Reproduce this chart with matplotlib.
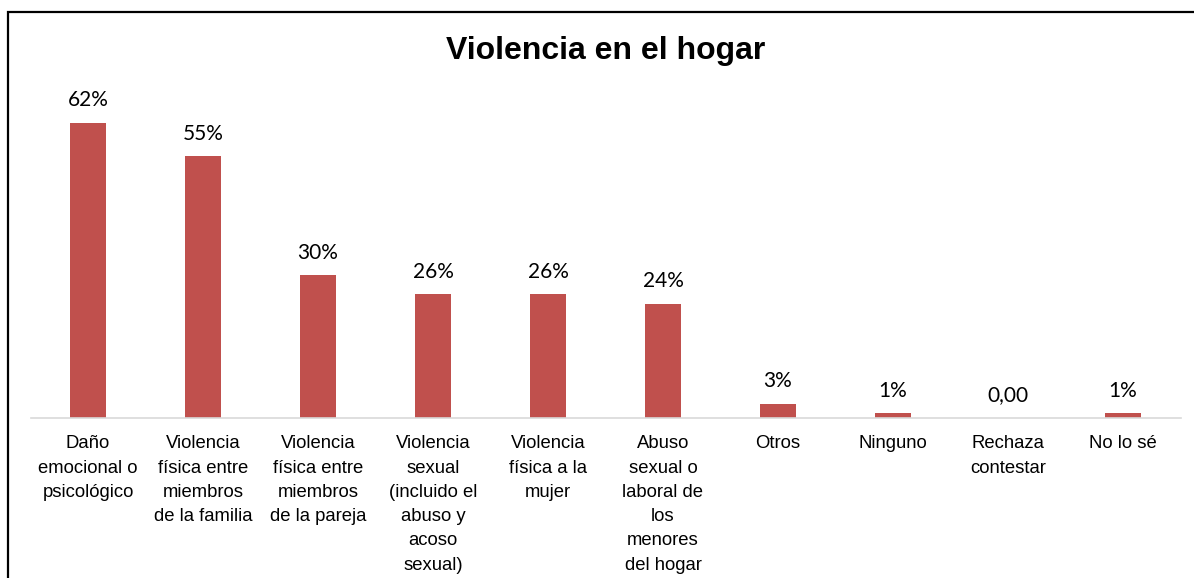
import matplotlib.pyplot as plt
from matplotlib.patches import Rectangle
import numpy as np

categories = [
    "Daño\nemocional o\npsicológico",
    "Violencia\nfísica entre\nmiembros\nde la familia",
    "Violencia\nfísica entre\nmiembros\nde la pareja",
    "Violencia\nsexual\n(incluido el\nabuso y\nacoso\nsexual)",
    "Violencia\nfísica a la\nmujer",
    "Abuso\nsexual o\nlaboral de\nlos\nmenores\ndel hogar",
    "Otros",
    "Ninguno",
    "Rechaza\ncontestar",
    "No lo sé",
]
values = [0.62, 0.55, 0.30, 0.26, 0.26, 0.24, 0.03, 0.01, 0.0, 0.01]
value_labels = ["62%", "55%", "30%", "26%", "26%", "24%", "3%", "1%", "0,00", "1%"]

W, H = 1194, 578
fig = plt.figure(figsize=(W / 100, H / 100), dpi=100)
ax = fig.add_axes([30.5 / W, 160 / H, 1150 / W, 333 / H])

x = np.arange(len(categories))
bars = ax.bar(x, values, width=0.31, color="#C0504D")

for rect, lab in zip(bars, value_labels):
    ax.annotate(lab, (rect.get_x() + rect.get_width() / 2, rect.get_height()),
                xytext=(0, 12), textcoords="offset points",
                ha="center", va="baseline", fontsize=15, family="Lato")

ax.set_xlim(-0.5, len(categories) - 0.5)
ax.set_ylim(0, 0.70)
ax.set_xticks(x)
ax.set_xticklabels(categories, fontsize=13.3, family="Liberation Sans",
                   linespacing=1.56, va="top")
ax.tick_params(axis="x", length=0, pad=12.5)
ax.set_yticks([])
for side in ["left", "right", "top"]:
    ax.spines[side].set_visible(False)
ax.spines["bottom"].set_color("#D9D9D9")
ax.spines["bottom"].set_linewidth(1.2)

fig.text(606 / W, 1 - 59 / H, "Violencia en el hogar", ha="center", va="baseline",
         fontsize=23, fontweight="bold", family="Liberation Sans")

# chart border (left and top visible)
fig.patches.append(Rectangle((8 / W, -0.1), 1.2, 1 - 12.5 / H + 0.1,
                             transform=fig.transFigure, fill=False,
                             edgecolor="black", linewidth=1.6))

fig.savefig("out.png", dpi=100)
